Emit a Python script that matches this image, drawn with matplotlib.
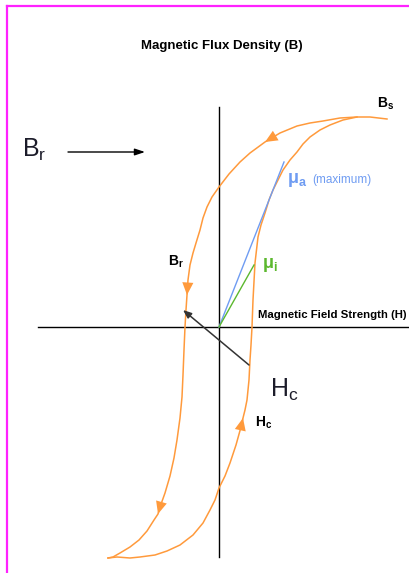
import matplotlib
matplotlib.use("Agg")
import matplotlib.pyplot as plt
from matplotlib import font_manager
from matplotlib.lines import Line2D

# hysteresis loop (H, B in arbitrary units)
desc_H = [168, 151, 138, 121, 104, 91, 78, 61, 46, 31, 21, 10, 0, -7, -12, -16, -19, -23, -26, -29,
          -31, -32, -33, -34, -35, -36, -37, -39, -42, -45, -49, -54, -59, -61, -65, -72, -80, -89,
          -99, -106, -111]
desc_B = [208, 210, 210, 209, 206, 204, 201, 194, 185, 174, 165, 153, 140, 130, 120, 109, 97, 84, 74, 62,
          47, 32, 17, 0, -23, -48, -70, -91, -113, -131, -149, -166, -180, -187, -193, -204, -213, -220,
          -226, -230, -231]
asc_H = [-111, -102, -89, -79, -64, -52, -39, -26, -16, -9, -4, 0, 6, 11, 17, 22, 24, 26, 28, 30, 31, 32,
         33, 34, 36, 39, 42, 46, 50, 54, 59, 64, 71, 78, 84, 91, 101, 111, 124, 138]
asc_B = [-231, -230, -231, -230, -228, -224, -218, -208, -196, -183, -173, -161, -149, -136, -118, -100,
         -91, -83, -73, -53, -33, -18, 0, 27, 64, 90, 102, 114, 127, 137, 147, 157, 167, 175, 183, 190,
         197, 202, 207, 210]

desc_arrows = [8, 21, 33]
asc_arrows = [16]

mu_a_end = (65, 165)   # max permeability slope
mu_i_end = (35, 62)    # initial permeability slope

orange = '#ff9a3c'
blue = '#6f9cf2'
green = '#5cb82e'


def pick_font(names):
    for n in names:
        try:
            font_manager.findfont(font_manager.FontProperties(family=n), fallback_to_default=False)
            return n
        except ValueError:
            pass
    return 'DejaVu Sans'


sans = pick_font(['Liberation Sans', 'Roboto'])

plt.rcParams['mathtext.fontset'] = 'custom'
plt.rcParams['mathtext.rm'] = sans
plt.rcParams['mathtext.it'] = sans + ':italic'
plt.rcParams['mathtext.bf'] = sans + ':bold'

fig = plt.figure(figsize=(4.09, 5.73), dpi=100)
ax = fig.add_axes([0, 0, 1, 1])
ax.set_xlim(-219, 190)
ax.set_ylim(-246, 327)
ax.axis('off')

# axes of the B-H plane
ax.plot([0, 0], [-230, 220], color='black', lw=1.0)
ax.plot([-181, 189], [0, 0], color='black', lw=1.0)

# loop
ax.plot(desc_H, desc_B, color=orange, lw=1.1)
ax.plot(asc_H, asc_B, color=orange, lw=1.1)

head = dict(arrowstyle='-|>,head_length=0.9,head_width=0.4', color=orange, lw=0,
            shrinkA=0, shrinkB=0)
for i in desc_arrows:
    ax.annotate('', xy=(desc_H[i], desc_B[i]), xytext=(desc_H[i - 1], desc_B[i - 1]), arrowprops=head)
for i in asc_arrows:
    ax.annotate('', xy=(asc_H[i], asc_B[i]), xytext=(asc_H[i - 1], asc_B[i - 1]), arrowprops=head)

# permeability lines
ax.plot([0, mu_a_end[0]], [0, mu_a_end[1]], color=blue, lw=1.0)
ax.plot([0, mu_i_end[0]], [0, mu_i_end[1]], color=green, lw=1.0)

# pointer arrows
ax.annotate('', xy=(-36, 17), xytext=(30, -38),
            arrowprops=dict(arrowstyle='-|>,head_length=0.5,head_width=0.2', color='#333333', lw=1.1,
                            shrinkA=0, shrinkB=0))
ax.annotate('', xy=(-74, 175), xytext=(-151, 175),
            arrowprops=dict(arrowstyle='-|>,head_length=0.6,head_width=0.2', color='black', lw=1.0,
                            shrinkA=0, shrinkB=0))

# labels
ax.text(3, 278, 'Magnetic Flux Density (B)', family=sans, weight='bold', fontsize=9.5,
        ha='center', va='baseline')
ax.text(39, 9, 'Magnetic Field Strength (H)', family=sans, weight='bold', fontsize=8.2,
        ha='left', va='baseline')
ax.text(158, 219, r'$\mathbf{B_s}$', fontsize=10, ha='left', va='baseline')
ax.text(-51, 61, r'$\mathbf{B_r}$', fontsize=10, ha='left', va='baseline')
ax.text(36, -100, r'$\mathbf{H_c}$', fontsize=10, ha='left', va='baseline')
ax.text(-197, 170, r'$\mathrm{B_r}$', fontsize=18, ha='left', va='baseline', color='#1c1c2a')
ax.text(51, -70, r'$\mathrm{H_c}$', fontsize=18, ha='left', va='baseline', color='#1c1c2a')
ax.text(68, 144, r'$\mathbf{\mu_a}$', fontsize=13, ha='left', va='baseline', color=blue)
ax.text(93, 144, '(maximum)', family=sans, fontsize=8.5, ha='left', va='baseline', color=blue)
ax.text(43, 59, r'$\mathbf{\mu_i}$', fontsize=13, ha='left', va='baseline', color=green)

# page frame
fig.add_artist(Line2D([7 / 409, 7 / 409], [0, 1 - 6 / 573], transform=fig.transFigure,
                      color='#ff22ff', lw=1.6))
fig.add_artist(Line2D([7 / 409, 1], [1 - 6 / 573, 1 - 6 / 573], transform=fig.transFigure,
                      color='#ff22ff', lw=1.6))

fig.savefig('out.png', dpi=100)
